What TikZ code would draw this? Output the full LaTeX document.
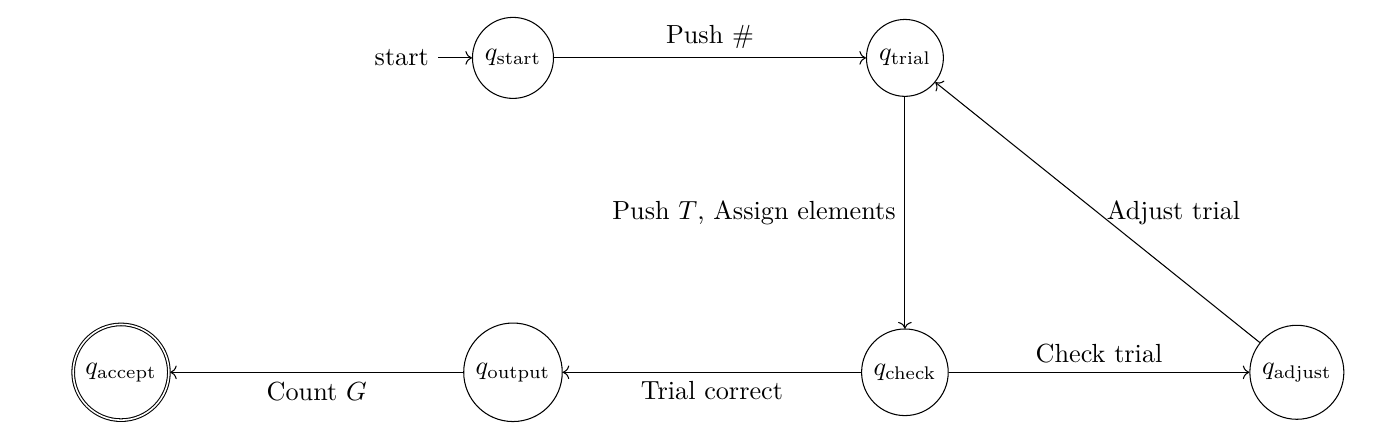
\documentclass[tikz,border=0pt]{standalone}
\usepackage{amsmath}
\usetikzlibrary{automata, positioning, arrows.meta}

\begin{document}
\begin{tikzpicture}[
  arr/.style={->, thin},
  node distance=120pt and 149.6pt, on grid,
  every state/.style={draw, thin},
  initial text=start,
]
  \useasboundingbox (-195.8pt,22.1pt) rectangle (335.9pt,-146.2pt);

  \node[state, initial] (qstart) {$q_{\text{start}}$};
  \node[state, right=of qstart] (qtrial) {$q_{\text{trial}}$};
  \node[state, below=of qtrial] (qcheck) {$q_{\text{check}}$};
  \node[state, right=of qcheck] (qadjust) {$q_{\text{adjust}}$};
  \node[state, left=of qcheck] (qoutput) {$q_{\text{output}}$};
  \node[state, accepting, left=of qoutput] (qaccept) {$q_{\text{accept}}$};

  \draw[arr] (qstart) -- node[above] {Push \#} (qtrial);
  \draw[arr] (qtrial) -- node[left] {Push $T$, Assign elements} (qcheck);
  \draw[arr] (qcheck) -- node[above] {Check trial} (qadjust);
  \draw[arr] (qadjust) -- node[right] {Adjust trial} (qtrial);
  \draw[arr] (qcheck) -- node[below] {Trial correct} (qoutput);
  \draw[arr] (qoutput) -- node[below] {Count $G$} (qaccept);
\end{tikzpicture}
\end{document}
